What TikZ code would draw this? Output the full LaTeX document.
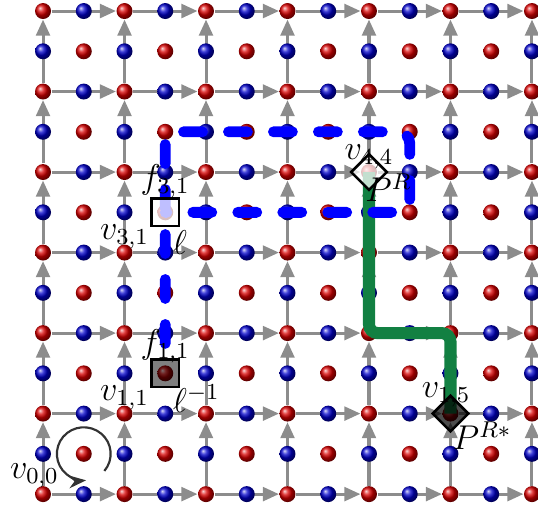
\documentclass[tikz,border=0pt]{standalone}
\usepackage{amsmath,amssymb}
\usepackage{tikz}
\usetikzlibrary{arrows.meta,calc,positioning,shapes.geometric}

\definecolor{pathgreen}{RGB}{18,128,66}
\pgfdeclarelayer{bg}
\pgfsetlayers{bg,main}

\begin{document}
\begin{tikzpicture}[x=1cm,y=0.988cm,
    vdot/.style={circle,inner sep=0pt,minimum size=0.196cm,shading=ball,ball color=red!85!black},
    edot/.style={circle,inner sep=0pt,minimum size=0.196cm,shading=ball,ball color=blue!80!black},
    latedge/.style={draw=black!45,line width=1.05pt,-{Triangle[length=5.6pt,width=4.8pt]}},
    dualpath/.style={blue,line width=3.8pt,line cap=round,dash pattern=on 6.6pt off 9.1pt,rounded corners=4pt},
    primpath/.style={pathgreen,line width=4.2pt,rounded corners=3pt},
    fsquare/.style={rectangle,draw=black,line width=0.9pt,minimum size=0.34cm,inner sep=0pt},
    vdiamond/.style={diamond,draw=black,line width=0.9pt,minimum size=0.45cm,inner sep=0pt},
    lab/.style={inner sep=1pt,font=\fontsize{11.5}{13}\selectfont}]
  \useasboundingbox (-0.528,-0.224) rectangle (6.074,6.137);
  \clip (-0.528,-0.224) rectangle (6.074,6.137);
  % Vertices
  \foreach \r in {0,...,6} {
    \foreach \c in {0,...,6} {
      \node[vdot] (v-\r-\c) at (\c,\r) {};
    }
  }
  % Edge midpoints
  \foreach \r in {0,...,6} {
    \foreach \c in {0,...,5} {
      \node[edot] (h-\r-\c) at (\c+0.5,\r) {};
    }
  }
  \foreach \r in {0,...,5} {
    \foreach \c in {0,...,6} {
      \node[edot] (u-\r-\c) at (\c,\r+0.5) {};
    }
  }
  % Face centres
  \foreach \r in {0,...,5} {
    \foreach \c in {0,...,5} {
      \node[vdot] (f-\r-\c) at (\c+0.5,\r+0.5) {};
    }
  }
  % Oriented lattice edges
  \begin{pgfonlayer}{bg}
    \foreach \r in {0,...,6} {
      \foreach \c [evaluate=\c as \n using int(\c+1)] in {0,...,5} {
        \draw[latedge] (v-\r-\c) -- (v-\r-\n);
        \draw[latedge] (v-\c-\r) -- (v-\n-\r);
      }
    }
  \end{pgfonlayer}
  % Primal string
  \draw[primpath] (v-4-4.center) -- (v-2-4.center) -- (v-2-5.center) -- (v-1-5.center);
  % Dual string
  \coordinate (dstart) at (1.5,1.872);
  \draw[dualpath] (dstart) -- (f-4-1.center) -- (f-4-4.center) -- (f-3-4.center) -- (f-3-1.center);
  % Markers
  \node[fsquare,fill=white,fill opacity=0.75] (sq31) at (f-3-1) {};
  \node[fsquare,fill=black,fill opacity=0.5] (sq11) at (f-1-1) {};
  \node[vdiamond,fill=white,fill opacity=0.75] (dm44) at (v-4-4) {};
  \node[vdiamond,fill=black,fill opacity=0.7] (dm15) at (v-1-5) {};
  % Plaquette orientation
  \draw[black!80,line width=0.75pt,-{Stealth[length=6pt,width=4.5pt]}] ($(f-0-0)+(-40:0.33)$) arc[start angle=-40,end angle=275,radius=0.33];
  % Labels
  \node[lab,above=-2pt of v-0-0,xshift=-3pt] (l00) {$v_{0,0}$};
  \node[lab,above=-3pt of v-1-1] (l11) {$v_{1,1}$};
  \node[lab,above=-3pt of v-3-1] (l31) {$v_{3,1}$};
  \node[lab,above=-3pt of v-4-4] (l44) {$v_{4,4}$};
  \node[lab,above=-2pt of v-1-5,xshift=-1.5pt] (l15) {$v_{1,5}$};
  \node[lab,above=-1.6pt of sq31] (lf31) {$f_{3,1}$};
  \node[lab,above=-3pt of sq11] (lf11) {$f_{1,1}$};
  \node[lab,anchor=north west,xshift=-3.8pt] (ell) at (sq31.south east) {$\ell$};
  \node[lab,anchor=north west,xshift=-3.8pt,yshift=2.5pt] (ellinv) at (sq11.south east) {$\ell^{-1}$};
  \node[lab,anchor=base west] (pr) at ($(v-4-4)+(-0.086,-0.37)$) {$P^{R}$};
  \node[lab,anchor=base west] (prs) at ($(v-1-5)+(-0.012,-0.45)$) {$P^{R*}$};
\end{tikzpicture}
\end{document}
